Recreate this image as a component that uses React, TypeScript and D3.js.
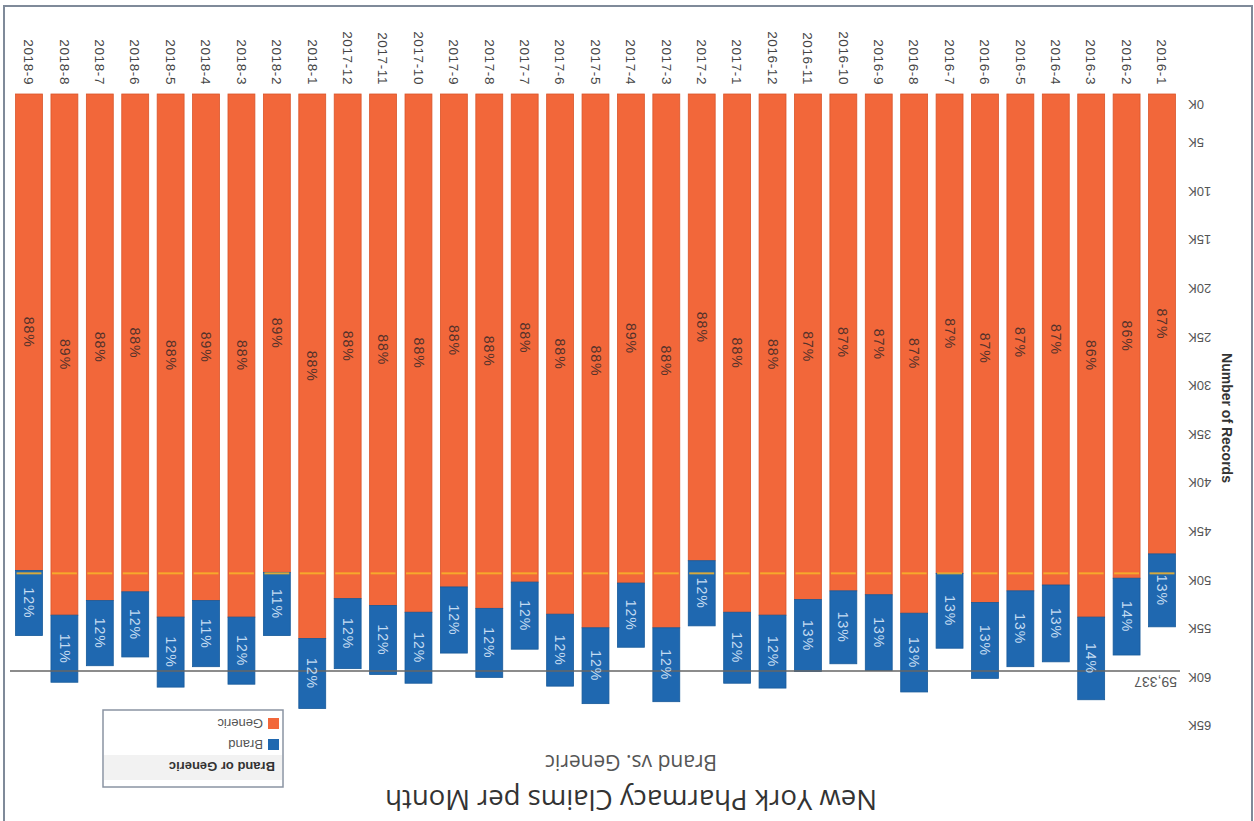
import React from 'react';
import * as d3 from 'd3';

// monthly claim counts
const months = [
  '2016-1', '2016-2', '2016-3', '2016-4', '2016-5', '2016-6', '2016-7', '2016-8', '2016-9', '2016-10', '2016-11', '2016-12',
  '2017-1', '2017-2', '2017-3', '2017-4', '2017-5', '2017-6', '2017-7', '2017-8', '2017-9', '2017-10', '2017-11', '2017-12',
  '2018-1', '2018-2', '2018-3', '2018-4', '2018-5', '2018-6', '2018-7', '2018-8', '2018-9',
];
const generic = [
  47300, 49800, 53800, 50500, 51100, 52300, 49300, 53400, 51500, 51100, 52000, 53600,
  53300, 48000, 54900, 50300, 54900, 53500, 50200, 52900, 50700, 53300, 52600, 51900,
  56000, 49200, 53800, 52100, 53800, 51200, 52100, 53600, 49000,
];
const brand = [
  7500, 7900, 8500, 7900, 7800, 7800, 7700, 8100, 7800, 7500, 7400, 7500,
  7300, 6700, 7600, 6600, 7800, 7400, 6900, 7100, 6800, 7300, 7100, 7200,
  7200, 6500, 6900, 6800, 7200, 6700, 6700, 6900, 6700,
];
const genericPct = [
  '87%', '86%', '86%', '87%', '87%', '87%', '87%', '87%', '87%', '87%', '87%', '88%',
  '88%', '88%', '88%', '89%', '88%', '88%', '88%', '88%', '88%', '88%', '88%', '88%',
  '88%', '89%', '88%', '89%', '88%', '88%', '88%', '89%', '88%',
];
const brandPct = [
  '13%', '14%', '14%', '13%', '13%', '13%', '13%', '13%', '13%', '13%', '13%', '12%',
  '12%', '12%', '12%', '12%', '12%', '12%', '12%', '12%', '12%', '12%', '12%', '12%',
  '12%', '11%', '12%', '11%', '12%', '12%', '12%', '11%', '12%',
];
const yTicks = [0, 5000, 10000, 15000, 20000, 25000, 30000, 35000, 40000, 45000, 50000, 55000, 60000, 65000];
const refTotal = 59337;
const refGeneric = 49300;

const W = 1254, H = 821;
const ORANGE = '#f2673a';
const BLUE = '#1f68b0';
const FONT = '"Liberation Sans", Arial, sans-serif';
const TITLE_FONT = '"Open Sans", sans-serif';

export default function App() {
  const rows = months.map((m, i) => ({ month: m, generic: generic[i], brand: brand[i] }));
  const series = d3.stack<any>().keys(['generic', 'brand'])(rows);

  const x = d3.scaleBand().domain(months).range([74.3, 1242.7]).paddingInner(0.24).paddingOuter(0.12);
  const y = d3.scaleLinear().domain([0, 65000]).range([727, 95]);
  const fmt = (v: number) => `${v / 1000}K`;
  const colors = [ORANGE, BLUE];
  const labels = [genericPct, brandPct];
  const labelFill = ['#55322a', '#c4dcf2'];

  return (
    <div>
      <style>{'body{margin:0;background:#fff}'}</style>
      <svg width={W} height={H} style={{ display: 'block', fontFamily: FONT }}>
        {/* the whole chart is photographed upside down */}
        <g transform={`rotate(180 ${W / 2} ${H / 2})`}>
          <rect x={2} y={-10} width={1248} height={825} fill="none" stroke="#7f8a99" strokeWidth={2} />

          <text x={623} y={21} dy="0.35em" textAnchor="middle" fontSize={27.5} fill="#333" fontFamily={TITLE_FONT}>New York Pharmacy Claims per Month</text>
          <text x={623} y={59} dy="0.35em" textAnchor="middle" fontSize={21} fill="#555" fontFamily={TITLE_FONT}>Brand vs. Generic</text>

          {/* y axis */}
          {yTicks.map((t, i) => (
            <text key={t} x={66} y={y(t)} dy={i === 0 ? '-0.45em' : '0.35em'} textAnchor="end" fontSize={13} fill="#555">{fmt(t)}</text>
          ))}
          <text transform={`translate(27, ${(y(0) + y(65000)) / 2 - 8}) rotate(-90)`} textAnchor="middle" dy="0.35em"
            fontSize={14} fontWeight="bold" fill="#333">Number of Records</text>

          {/* bars */}
          {series.map((s, si) => (
            <g key={s.key}>
              {s.map((d: any, i: number) => (
                <rect key={i} x={x(months[i])} y={y(d[1])} width={x.bandwidth()} height={y(d[0]) - y(d[1])}
                  fill={colors[si]} stroke={si === 0 ? '#d9552a' : '#175a9a'} strokeWidth={0.8} />
              ))}
            </g>
          ))}

          {/* generic reference, only seen inside the bars */}
          {months.map((m) => (
            <line key={m} x1={x(m)! + 1} x2={x(m)! + x.bandwidth() - 1} y1={y(refGeneric)} y2={y(refGeneric)}
              stroke="#f7b52a" strokeWidth={2} opacity={0.85} />
          ))}

          {/* total reference */}
          <line x1={74} x2={1244} y1={y(refTotal)} y2={y(refTotal)} stroke="#666" strokeWidth={1.5} />
          <text x={77} y={y(refTotal) - 6} fontSize={14} fill="#555">{d3.format(',')(refTotal)}</text>

          {/* segment labels */}
          {series.map((s, si) => (
            <g key={s.key}>
              {s.map((d: any, i: number) => {
                const cx = x(months[i])! + x.bandwidth() / 2;
                const cy = (y(d[0]) + y(d[1])) / 2;
                return (
                  <text key={i} transform={`translate(${cx}, ${cy}) rotate(-90)`} textAnchor="middle" dy="0.35em"
                    fontSize={14} letterSpacing={1} fill={labelFill[si]}>{labels[si][i]}</text>
                );
              })}
            </g>
          ))}

          {/* category labels */}
          {months.map((m) => (
            <text key={m} transform={`translate(${x(m)! + x.bandwidth() / 2}, 736) rotate(-90)`} textAnchor="end"
              dy="0.35em" fontSize={13.5} letterSpacing={0.6} fill="#444">{m}</text>
          ))}

          {/* legend */}
          <g>
            <rect x={971} y={34} width={180} height={77} fill="#fff" stroke="#8a94a3" strokeWidth={1.5} />
            <rect x={972} y={41} width={178} height={25} fill="#f2f2f2" />
            <text x={979} y={54} dy="0.35em" fontSize={13} fontWeight="bold" fill="#333">Brand or Generic</text>
            {['Brand', 'Generic'].map((k, i) => (
              <g key={k}>
                <rect x={975} y={71 + i * 21} width={11} height={11} fill={i === 0 ? BLUE : ORANGE} />
                <text x={991} y={76 + i * 21} dy="0.35em" fontSize={13} fill="#555">{k}</text>
              </g>
            ))}
          </g>
        </g>
      </svg>
    </div>
  );
}
